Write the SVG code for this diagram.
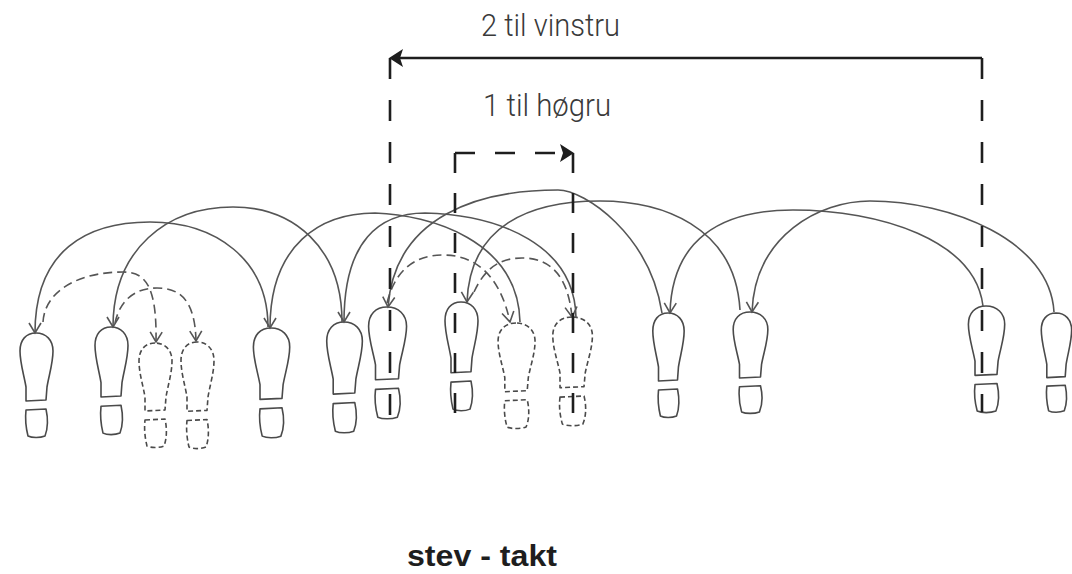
<svg xmlns="http://www.w3.org/2000/svg" xmlns:xlink="http://www.w3.org/1999/xlink" width="1072" height="574" viewBox="0 0 1072 574">
<style>
.foot{fill:none;stroke:#4a4a4a;stroke-width:1.6;stroke-linejoin:round}
.dfoot{stroke-dasharray:5 3}
.sole,.heel{vector-effect:non-scaling-stroke}
.arc{fill:none;stroke:#555;stroke-width:1.6;marker-end:url(#vhead)}
.darc{fill:none;stroke:#555;stroke-width:1.6;stroke-dasharray:9 5;marker-end:url(#vhead)}
.meas{fill:none;stroke:#1e1e1e;stroke-width:2.6}
.mdash1{stroke-dasharray:21 21}
.mdash2{stroke-dasharray:20 20}
.head{fill:#1e1e1e}
.lbl{font-family:Roboto,"Liberation Sans",Arial,sans-serif;font-weight:300;font-size:31px;fill:#3a3a3a}
.title{font-family:"Liberation Sans",Arial,sans-serif;font-weight:bold;font-size:30px;fill:#1e1e1e}
</style>
<defs>
<marker id="vhead" viewBox="-12 -10 14 20" markerWidth="14" markerHeight="20" refX="0" refY="0" orient="auto" markerUnits="userSpaceOnUse">
<path d="M-10,-6 L0,0 L-10,6" fill="none" stroke="#555" stroke-width="1.6" stroke-dasharray="none"/>
</marker>
<path id="sole" class="sole" d="M0,0 C-10,0 -16,7 -16,18 C-16,30 -12,42 -10,54 L-10,68 L10,67 L11,54 C13,42 17,30 17,18 C17,7 10,0 0,0 Z"/>
<path id="heel" class="heel" d="M-10,77 L10,76 C12,85 12,95 9,103 C4,105 -4,105 -8,103 C-10,95 -11,86 -10,77 Z"/>
</defs>
<rect width="1072" height="574" fill="#fff"/>

<g id="foot1" class="foot" transform="translate(36,333) scale(1,1)"><use xlink:href="#sole"/><use xlink:href="#heel"/></g>
<g id="foot2" class="foot" transform="translate(111,327) scale(1,1.03)"><use xlink:href="#sole"/><use xlink:href="#heel"/></g>
<g id="foot3" class="foot dfoot" transform="translate(155,343) scale(1,1)"><use xlink:href="#sole"/><use xlink:href="#heel"/></g>
<g id="foot4" class="foot dfoot" transform="translate(197,342) scale(1,1.02)"><use xlink:href="#sole"/><use xlink:href="#heel"/></g>
<g id="foot5" class="foot" transform="translate(271,328) scale(1.1,1.05)"><use xlink:href="#sole"/><use xlink:href="#heel"/></g>
<g id="foot6" class="foot" transform="translate(344,322) scale(1.08,1.06)"><use xlink:href="#sole"/><use xlink:href="#heel"/></g>
<g id="foot7" class="foot" transform="translate(387,307) scale(1.15,1.07)"><use xlink:href="#sole"/><use xlink:href="#heel"/></g>
<g id="foot8" class="foot" transform="translate(461,302) scale(1,1.04)"><use xlink:href="#sole"/><use xlink:href="#heel"/></g>
<g id="foot9" class="foot dfoot" transform="translate(516,323) scale(1.12,1.01)"><use xlink:href="#sole"/><use xlink:href="#heel"/></g>
<g id="foot10" class="foot dfoot" transform="translate(572,317) scale(1.2,1.04)"><use xlink:href="#sole"/><use xlink:href="#heel"/></g>
<g id="foot11" class="foot" transform="translate(668,313) scale(0.95,1)"><use xlink:href="#sole"/><use xlink:href="#heel"/></g>
<g id="foot12" class="foot" transform="translate(750,312) scale(1.05,0.97)"><use xlink:href="#sole"/><use xlink:href="#heel"/></g>
<g id="foot13" class="foot" transform="translate(986,306) scale(1.1,1.02)"><use xlink:href="#sole"/><use xlink:href="#heel"/></g>
<g id="foot14" class="foot" transform="translate(1056,313) scale(0.92,0.95)"><use xlink:href="#sole"/><use xlink:href="#heel"/></g>

<g id="connectors">
<path class="arc" d="M268,327 C268,259 215,222 150,222 C87,222 35,250 35,333"/>
<path class="arc" d="M342,322 C342,247 293,207 233,207 C167,207 113,249 113,327"/>
<path class="arc" d="M520,322 C518,240 430,215 375,213 C320,213 270,245 270,328"/>
<path class="arc" d="M576,318 C575,245 500,215 425,213 C380,213 344,240 344,322"/>
<path class="arc" d="M662,313 C650,235 585,190 558,190 C480,190 395,215 388,307"/>
<path class="arc" d="M740,310 C735,225 660,201 600,201 C530,201 470,225 467,302"/>
<path class="arc" d="M983,306 C975,240 880,210 793,210 C720,210 672,240 670,313"/>
<path class="arc" d="M1054,312 C1050,240 950,201 870,201 C820,201 755,235 752,312"/>
<path class="darc" d="M43,322 C45,290 80,272 123,272 C145,272 157,285 156,342"/>
<path class="darc" d="M115,323 C120,300 135,288 157,288 C180,288 195,300 196,341"/>
<path class="darc" d="M387,303 C395,270 415,255 443,255 C475,255 500,275 510,322"/>
<path class="darc" d="M474,292 C485,268 500,258 522,258 C550,258 568,275 572,317"/>
</g>

<g id="measure-2-left">
<path class="meas" d="M982,58 H400"/>
<path class="head" d="M389,58 L403,49 L400,58 L403,67 Z"/>
<path class="meas mdash1" d="M390,58 V416"/>
<path class="meas mdash1" d="M982,58 V412"/>
<text class="lbl" x="481" y="36" textLength="139" lengthAdjust="spacingAndGlyphs">2 til vinstru</text>
</g>
<g id="measure-1-right">
<path class="meas mdash2" d="M455,153 H560"/>
<path class="head" d="M574,153 L560,144 L563,153 L560,162 Z"/>
<path class="meas mdash2" d="M455,153 V416"/>
<path class="meas mdash2" d="M573,153 V424"/>
<text class="lbl" x="483" y="116" textLength="128" lengthAdjust="spacingAndGlyphs">1 til høgru</text>
</g>
<text id="title" class="title" x="407" y="566" textLength="150" lengthAdjust="spacingAndGlyphs">stev - takt</text>
</svg>
